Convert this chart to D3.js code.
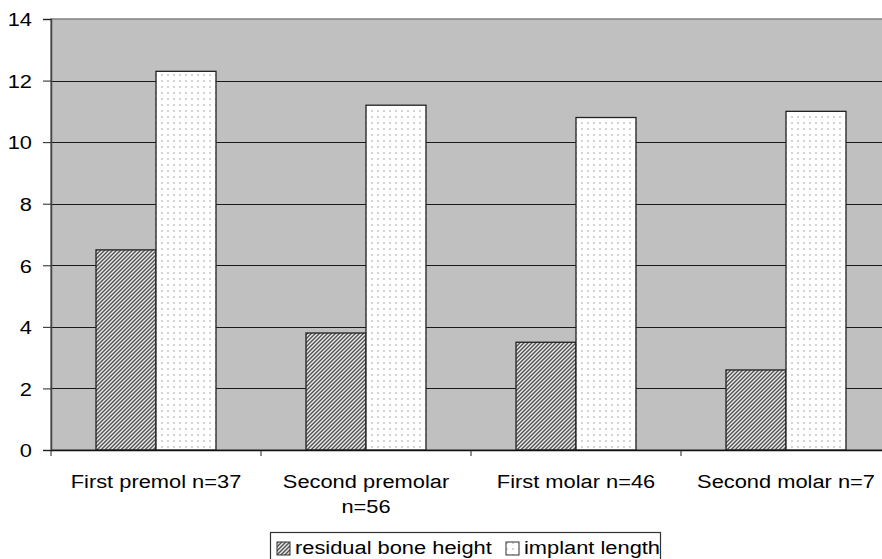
<!DOCTYPE html>
<html><head><meta charset="utf-8">
<script src="https://cdn.jsdelivr.net/npm/d3@7"></script>
<style>html,body{margin:0;padding:0;background:#fff;overflow:hidden}svg{display:block}text{font-family:"Liberation Sans",Arial,sans-serif;fill:#000}</style>
</head><body>
<script>
const categories = ["First premol n=37", "Second premolar n=56", "First molar n=46", "Second molar n=7"];
const categoryLines = [["First premol n=37"], ["Second premolar", "n=56"], ["First molar n=46"], ["Second molar n=7"]];
const seriesNames = ["residual bone height", "implant length"];
const residualBoneHeight = [6.5, 3.8, 3.5, 2.6];
const implantLength = [12.3, 11.2, 10.8, 11.0];
const yTicks = [0, 2, 4, 6, 8, 10, 12, 14];

const W = 882, H = 559;
const FS = 19, SX = 1.15;
const svg = d3.select("body").append("svg").attr("width", W).attr("height", H);
const defs = svg.append("defs");

// hatch pattern (fine upward diagonal, mottled)
const ph = defs.append("pattern").attr("id", "hatch").attr("patternUnits", "userSpaceOnUse").attr("width", 4).attr("height", 4);
ph.append("rect").attr("width", 4).attr("height", 4).attr("fill", "#e6e6e6");
[[0,3],[1,2],[2,1],[3,0]].forEach(([a,b]) => ph.append("rect").attr("x", a).attr("y", b).attr("width", 1).attr("height", 1).attr("fill", "#555"));
[[0,2],[1,1],[2,0],[3,3]].forEach(([a,b]) => ph.append("rect").attr("x", a).attr("y", b).attr("width", 1).attr("height", 1).attr("fill", "#8c8c8c"));
[[0,0],[1,3],[2,2],[3,1]].forEach(([a,b]) => ph.append("rect").attr("x", a).attr("y", b).attr("width", 1).attr("height", 1).attr("fill", "#b4b4b4"));
// dot pattern
const pd = defs.append("pattern").attr("id", "dots").attr("patternUnits", "userSpaceOnUse").attr("width", 6).attr("height", 6);
pd.append("rect").attr("width", 6).attr("height", 6).attr("fill", "#ffffff");
pd.append("rect").attr("x", 2).attr("y", 2).attr("width", 2).attr("height", 2).attr("fill", "#d4d4d4");
const fills = ["url(#hatch)", "url(#dots)"];

const pL = 51, pR = 891, pT = 19, pB = 450;
const x = d3.scaleBand().domain(categories).range([pL, pR]).padding(0);
const x1 = d3.scaleBand().domain(seriesNames).range([0, x.bandwidth()]).paddingInner(0).paddingOuter(0.75);
const y = d3.scaleLinear().domain([0, 14]).range([pB, pT]);

// plot background
svg.append("rect").attr("x", pL).attr("y", pT).attr("width", pR - pL).attr("height", pB - pT).attr("fill", "#c0c0c0").attr("stroke", "#808080").attr("stroke-width", 1.5);

// gridlines
svg.append("g").selectAll("line").data(yTicks.filter(t => t > 0 && t < 14)).join("line")
  .attr("x1", pL).attr("x2", pR).attr("y1", d => Math.round(y(d)) + 0.5).attr("y2", d => Math.round(y(d)) + 0.5)
  .attr("stroke", "#1a1a1a").attr("stroke-width", 1.2);

// bars
const data = categories.map((c, i) => ({ c, vals: [residualBoneHeight[i], implantLength[i]] }));
const groups = svg.append("g").selectAll("g").data(data).join("g").attr("transform", d => `translate(${x(d.c)},0)`);
groups.selectAll("rect").data(d => d.vals.map((v, j) => ({ v, s: seriesNames[j], j }))).join("rect")
  .attr("x", d => x1(d.s)).attr("width", x1.bandwidth())
  .attr("y", d => y(d.v)).attr("height", d => y(0) - y(d.v))
  .attr("fill", d => fills[d.j]).attr("stroke", "#222").attr("stroke-width", 1.3);

// y axis
const yAxis = svg.append("g").attr("transform", `translate(${pL},0)`).call(d3.axisLeft(y).tickValues(yTicks).tickSize(8).tickPadding(11).tickFormat(d3.format("d")));
yAxis.select(".domain").attr("stroke", "#444").attr("stroke-width", 1.5);
yAxis.selectAll(".tick line").attr("stroke", "#222");
yAxis.selectAll(".tick text").each(function () {
  const t = d3.select(this);
  t.attr("font-size", FS).attr("transform", `translate(-19,0) scale(${SX},1)`).attr("x", 0).attr("dy", "0.36em").attr("font-family", null);
});

// x axis
const xAxis = svg.append("g").attr("transform", `translate(0,${pB})`).call(d3.axisBottom(x).tickSize(0).tickFormat(""));
xAxis.select(".domain").attr("stroke", "#111").attr("stroke-width", 1.3);
xAxis.selectAll(".tick").remove();
const bounds = categories.map(c => x(c)).concat([pR]);
xAxis.selectAll("line.bt").data(bounds).join("line").attr("class", "bt")
  .attr("x1", d => d).attr("x2", d => d).attr("y1", 0).attr("y2", 6).attr("stroke", "#222");

// category labels
const lab = svg.append("g").selectAll("g").data(categories).join("g")
  .attr("transform", c => `translate(${x(c) + x.bandwidth() / 2},488) scale(${SX},1)`);
lab.each(function (c, i) {
  const g = d3.select(this);
  categoryLines[i].forEach((ln, k) => g.append("text").attr("x", 0).attr("y", k * 25).attr("text-anchor", "middle").attr("font-size", FS).text(ln));
});

// legend
const lg = svg.append("g");
lg.append("rect").attr("x", 270.5).attr("y", 532.5).attr("width", 390).attr("height", 30).attr("fill", "#fff").attr("stroke", "#333").attr("stroke-width", 1.2);
const legX = [277, 506];
seriesNames.forEach((s, j) => {
  lg.append("rect").attr("x", legX[j]).attr("y", 542).attr("width", 13).attr("height", 13).attr("fill", fills[j]).attr("stroke", "#333");
  lg.append("text").attr("transform", `translate(${legX[j] + 18},554) scale(${SX},1)`).attr("font-size", FS).text(s);
});
</script>
</body></html>
